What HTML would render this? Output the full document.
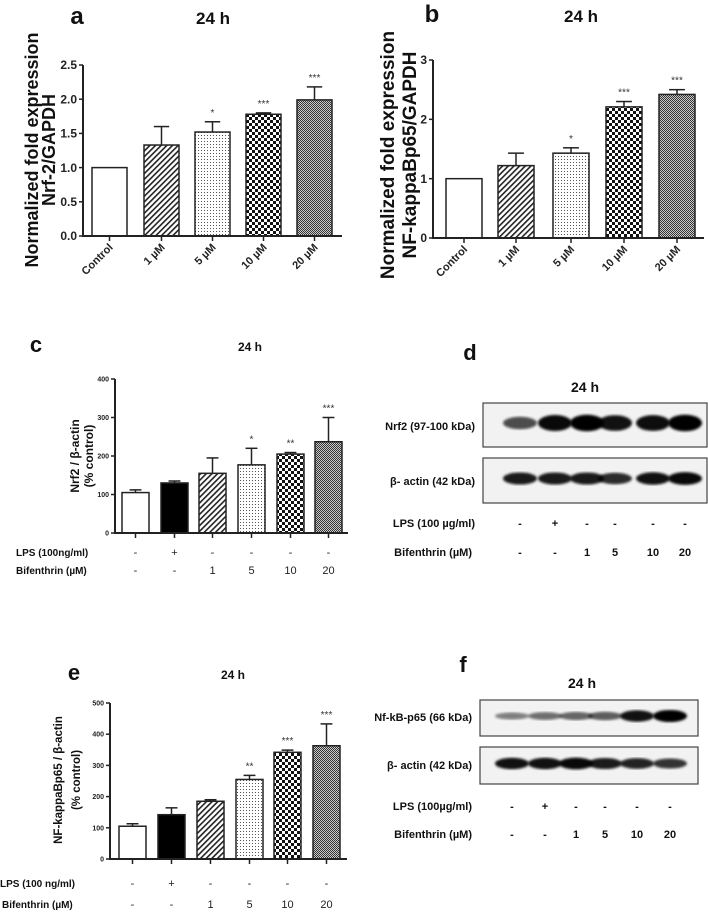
<!DOCTYPE html>
<html><head><meta charset="utf-8"><style>
html,body{margin:0;padding:0;background:#fff}
svg{display:block;font-family:"Liberation Sans",Arial,sans-serif}
</style></head><body>
<svg id="fig" width="708" height="913" viewBox="0 0 708 913">
<defs>
<pattern id="hatch" width="4" height="4" patternUnits="userSpaceOnUse" patternTransform="rotate(45)"><rect width="4" height="4" fill="#fff"/><rect width="1.6" height="4" fill="#222"/></pattern>
<pattern id="dots" width="3" height="3" patternUnits="userSpaceOnUse"><rect width="3" height="3" fill="#fff"/><rect width="1" height="1" fill="#555"/></pattern>
<pattern id="check" width="6" height="6" patternUnits="userSpaceOnUse"><rect width="6" height="6" fill="#fff"/><rect width="3" height="3" fill="#111"/><rect x="3" y="3" width="3" height="3" fill="#111"/></pattern>
<pattern id="fine" width="2" height="2" patternUnits="userSpaceOnUse"><rect width="2" height="2" fill="#ccc"/><rect width="1" height="1" fill="#333"/><rect x="1" y="1" width="1" height="1" fill="#333"/></pattern>
<filter id="blur"><feGaussianBlur stdDeviation="1.4"/></filter>
</defs>
<g id="root"></g>
</svg>
<script>
// Panel a data
const aCats = ["Control","1 µM","5 µM","10 µM","20 µM"];
const aVals = [1.0, 1.33, 1.52, 1.78, 1.99];
const aErrs = [0, 0.27, 0.15, 0.02, 0.19];
const aSig = ["", "", "*", "***", "***"];
const aTicks = [0, 0.5, 1.0, 1.5, 2.0, 2.5];
// Panel b data
const bCats = ["Control","1 µM","5 µM","10 µM","20 µM"];
const bVals = [1.0, 1.22, 1.43, 2.21, 2.42];
const bErrs = [0, 0.21, 0.09, 0.09, 0.08];
const bSig = ["", "", "*", "***", "***"];
const bTicks = [0, 1, 2, 3];
// Panel c data
const cVals = [105, 130, 155, 177, 205, 237];
const cErrs = [7, 5, 40, 43, 4, 63];
const cSig = ["", "", "", "*", "**", "***"];
const cTicks = [0, 100, 200, 300, 400];
// Panel e data
const eVals = [105, 142, 185, 255, 342, 363];
const eErrs = [8, 22, 5, 13, 7, 70];
const eSig = ["", "", "", "**", "***", "***"];
const eTicks = [0, 100, 200, 300, 400, 500];
const lpsRow = ["-", "+", "-", "-", "-", "-"];
const bifRow = ["-", "-", "1", "5", "10", "20"];
// Blot band intensities
const dNrf2 = [0.55, 0.95, 1.0, 0.9, 0.92, 1.0];
const dActin = [0.85, 0.85, 0.85, 0.75, 0.9, 0.95];
const fP65 = [0.25, 0.35, 0.4, 0.45, 0.9, 1.0];
const fActin = [0.9, 0.9, 0.95, 0.85, 0.8, 0.7];

const NS = "http://www.w3.org/2000/svg";
const root = document.getElementById("root");
function el(tag, attrs, parent, txt) {
  const e = document.createElementNS(NS, tag);
  for (const k in attrs) e.setAttribute(k, attrs[k]);
  if (txt !== undefined) e.textContent = txt;
  (parent || root).appendChild(e);
  return e;
}
const fills5 = ["#fff", "url(#hatch)", "url(#dots)", "url(#check)", "url(#fine)"];
const fills6 = ["#fff", "#000", "url(#hatch)", "url(#dots)", "url(#check)", "url(#fine)"];

function barChart(o) {
  const g = el("g", {});
  
  
  const y = v => o.y0 - (v - o.ticks[0]) / (o.ticks[o.ticks.length - 1] - o.ticks[0]) * (o.y0 - o.yTop);
  o.vals.forEach((v, i) => {
    const x = o.barX[i];
    const w = o.barW;
    const top = y(v);
    if (o.errs[i] > 0) {
      const ey = y(v + o.errs[i]);
      el("line", {x1: x + w / 2, x2: x + w / 2, y1: top, y2: ey, stroke: "#222", "stroke-width": 1.5}, g);
      el("line", {x1: x + w / 2 - w * 0.22, x2: x + w / 2 + w * 0.22, y1: ey, y2: ey, stroke: "#222", "stroke-width": 1.5}, g);
    }
    const r = el("rect", {x: x, y: top, width: w, height: o.y0 - top, fill: o.fills[i], stroke: "#222", "stroke-width": 1.5}, g);
    
    
    if (o.sig[i]) {
      const t = el("text", {x: x + w / 2, y: y(v + o.errs[i]) - 6, "text-anchor": "middle", "font-size": 10, fill: "#333"}, g, o.sig[i]);
      
      
    }
  });
  el("line", {x1: o.ax, x2: o.ax, y1: o.yTop, y2: o.y0 + 1, stroke: "#222", "stroke-width": 2}, g);
  el("line", {x1: o.ax - 1, x2: o.axEnd, y1: o.y0, y2: o.y0, stroke: "#222", "stroke-width": 2}, g);
  o.ticks.forEach(t => {
    el("line", {x1: o.ax - 4, x2: o.ax, y1: y(t), y2: y(t), stroke: "#222", "stroke-width": 1.5}, g);
    const tl = el("text", {x: o.ax - 6, y: y(t) + o.tfs * 0.35, "text-anchor": "end", "font-size": o.tfs, "font-weight": "bold", fill: "#222"}, g, o.fmt(t));
    
    
  });
  o.vals.forEach((v, i) => {
    const cx = o.barX[i] + o.barW / 2;
    el("line", {x1: cx, x2: cx, y1: o.y0, y2: o.y0 + 5, stroke: "#222", "stroke-width": 1.5}, g);
  });
  if (o.cats) {
    o.cats.forEach((c, i) => {
      const cx = o.barX[i] + o.barW / 2 + 4;
      const ty = o.y0 + 12;
      const t = el("text", {x: cx, y: ty, "text-anchor": "end", "font-size": 11, "font-weight": "bold", fill: "#222", transform: `rotate(-45 ${cx} ${ty})`}, g, c);
      
      
    });
  }
  if (o.rows) {
    o.rows.forEach((row, ri) => {
      row.forEach((s, i) => {
        const cx = o.barX[i] + o.barW / 2;
        const t = el("text", {x: cx, y: o.rowY[ri], "text-anchor": "middle", "font-size": 11, fill: "#222"}, g, s);
        
        
      });
    });
  }
}

function txt(x, y, s, size, weight, anchor, name, extra) {
  const t = el("text", Object.assign({x: x, y: y, "font-size": size, "font-weight": weight, "text-anchor": anchor, fill: "#111"}, extra || {}), root, s);
  
  
  return t;
}

txt(77, 24, "a", 24, "bold", "middle", "panel-label-a");
txt(213, 24, "24 h", 17, "bold", "middle", "title-a");
txt(0, 0, "Normalized fold expression", 18, "bold", "middle", "y-axis-title-a", {transform: "translate(38,150) rotate(-90)"});
txt(0, 0, "Nrf-2/GAPDH", 18, "bold", "middle", "y-axis-title-a-2", {transform: "translate(55,150) rotate(-90)"});
barChart({name: "chart-a", vals: aVals, errs: aErrs, sig: aSig, ticks: aTicks, fills: fills5, cats: aCats,
  barX: [92, 144, 195, 246, 297], barW: 35, ax: 83, axEnd: 342, y0: 236, yTop: 65, tfs: 12, fmt: t => t.toFixed(1)});

txt(432, 22, "b", 24, "bold", "middle", "panel-label-b");
txt(581, 22, "24 h", 17, "bold", "middle", "title-b");
txt(0, 0, "Normalized fold expression", 19, "bold", "middle", "y-axis-title-b", {transform: "translate(394,155) rotate(-90)"});
txt(0, 0, "NF-kappaBp65/GAPDH", 19, "bold", "middle", "y-axis-title-b-2", {transform: "translate(416,155) rotate(-90)"});
barChart({name: "chart-b", vals: bVals, errs: bErrs, sig: bSig, ticks: bTicks, fills: fills5, cats: bCats,
  barX: [446, 498, 553, 606, 659], barW: 36, ax: 433, axEnd: 704, y0: 238, yTop: 60, tfs: 12, fmt: t => String(t)});

txt(36, 352, "c", 22, "bold", "middle", "panel-label-c");
txt(250, 351, "24 h", 12, "bold", "middle", "title-c");
txt(0, 0, "Nrf2 / β-actin", 12, "bold", "middle", "y-axis-title-c", {transform: "translate(79,456) rotate(-90)"});
txt(0, 0, "(% control)", 12, "bold", "middle", "y-axis-title-c-2", {transform: "translate(93,456) rotate(-90)"});
barChart({name: "chart-c", vals: cVals, errs: cErrs, sig: cSig, ticks: cTicks, fills: fills6,
  barX: [122, 161, 199, 238, 277, 315], barW: 27, ax: 115, axEnd: 348, y0: 533, yTop: 379, tfs: 7,
  fmt: t => String(t), rows: [lpsRow, bifRow], rowY: [556, 574]});
txt(16, 556, "LPS (100ng/ml)", 10, "bold", "start", "lps-label-c");
txt(16, 574, "Bifenthrin (µM)", 10, "bold", "start", "bifenthrin-label-c");

txt(74, 680, "e", 22, "bold", "middle", "panel-label-e");
txt(233, 679, "24 h", 12, "bold", "middle", "title-e");
txt(0, 0, "NF-kappaBp65 / β-actin", 11.5, "bold", "middle", "y-axis-title-e", {transform: "translate(62,780) rotate(-90)"});
txt(0, 0, "(% control)", 11.5, "bold", "middle", "y-axis-title-e-2", {transform: "translate(80,780) rotate(-90)"});
barChart({name: "chart-e", vals: eVals, errs: eErrs, sig: eSig, ticks: eTicks, fills: fills6,
  barX: [119, 158, 197, 236, 274, 313], barW: 27, ax: 110, axEnd: 347, y0: 859, yTop: 703, tfs: 7,
  fmt: t => String(t), rows: [lpsRow, bifRow], rowY: [887, 908]});
txt(0, 887, "LPS (100 ng/ml)", 10, "bold", "start", "lps-label-e");
txt(2, 908, "Bifenthrin (µM)", 10, "bold", "start", "bifenthrin-label-e");

function blot(name, x1, x2, y1, y2, lanes, vals, bandH, dy) {
  const g = el("g", {});
  
  
  el("rect", {x: x1, y: y1, width: x2 - x1, height: y2 - y1, fill: "#f2f2f2", stroke: "#444", "stroke-width": 1.2}, g);
  const cy = (y1 + y2) / 2 + (dy || 0);
  lanes.forEach((lx, i) => {
    const v = vals[i];
    const b = el("ellipse", {cx: lx, cy: cy, rx: 17, ry: bandH * (0.5 + 0.6 * v), fill: "#000", "fill-opacity": 0.3 + 0.7 * v, filter: "url(#blur)"}, g);
    
    
  });
}
const dLanes = [520, 555, 587, 615, 653, 685];
const fLanes = [512, 545, 576, 605, 637, 670];
txt(470, 360, "d", 22, "bold", "middle", "panel-label-d");
txt(585, 392, "24 h", 14, "bold", "middle", "title-d");
blot("blot-nrf2", 483, 707, 403, 447, dLanes, dNrf2, 7.5, -2);
blot("blot-actin-d", 483, 707, 458, 503, dLanes, dActin, 6, -2);
txt(475, 430, "Nrf2 (97-100 kDa)", 11, "bold", "end", "nrf2-label");
txt(475, 485, "β- actin (42 kDa)", 11, "bold", "end", "actin-label-d");
txt(475, 527, "LPS  (100 µg/ml)", 11, "bold", "end", "lps-label-d");
txt(472, 556, "Bifenthrin (µM)", 11, "bold", "end", "bifenthrin-label-d");
lpsRow.forEach((s, i) => txt(dLanes[i], 527, s, 11, "bold", "middle", "lps-sign-d"));
bifRow.forEach((s, i) => txt(dLanes[i], 556, s, 11, "bold", "middle", "bifenthrin-dose-d"));

txt(463, 672, "f", 22, "bold", "middle", "panel-label-f");
txt(582, 688, "24 h", 14, "bold", "middle", "title-f");
blot("blot-p65", 480, 698, 700, 736, fLanes, fP65, 5.5, -2);
blot("blot-actin-f", 480, 698, 747, 784, fLanes, fActin, 5.5, -2);
txt(472, 721, "Nf-kB-p65 (66 kDa)", 11, "bold", "end", "p65-label");
txt(472, 769, "β- actin (42 kDa)", 11, "bold", "end", "actin-label-f");
txt(472, 810, "LPS  (100µg/ml)", 11, "bold", "end", "lps-label-f");
txt(472, 838, "Bifenthrin (µM)", 11, "bold", "end", "bifenthrin-label-f");
lpsRow.forEach((s, i) => txt(fLanes[i], 810, s, 11, "bold", "middle", "lps-sign-f"));
bifRow.forEach((s, i) => txt(fLanes[i], 838, s, 11, "bold", "middle", "bifenthrin-dose-f"));
</script>
</body></html>
